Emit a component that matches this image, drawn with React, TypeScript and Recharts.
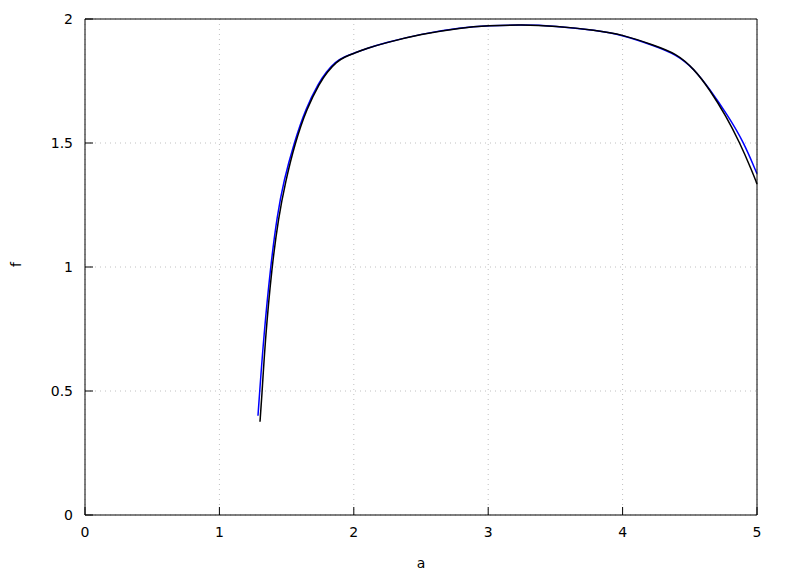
import React from "react";
import { LineChart, Line, XAxis, YAxis, CartesianGrid } from "recharts";

// blue curve
const blueA = [1.287, 1.3, 1.33, 1.38, 1.43, 1.48, 1.555, 1.642, 1.742, 1.792, 1.864, 1.93, 2.0, 2.1, 2.22, 2.5, 2.8, 3.0, 3.25, 3.5, 3.8, 4.0, 4.23, 4.4, 4.53, 4.65, 4.78, 4.9, 5.0];
const blueF = [0.4, 0.5, 0.72, 1.0, 1.21, 1.35, 1.5, 1.64, 1.745, 1.785, 1.828, 1.848, 1.862, 1.882, 1.902, 1.94, 1.966, 1.973, 1.977, 1.972, 1.955, 1.935, 1.893, 1.857, 1.8, 1.716, 1.613, 1.505, 1.376];

// black curve
const blackA = [1.302, 1.315, 1.34, 1.39, 1.44, 1.49, 1.5625, 1.65, 1.75, 1.8, 1.872, 1.935, 2.0, 2.1, 2.22, 2.5, 2.8, 3.0, 3.25, 3.5, 3.8, 4.0, 4.23, 4.4, 4.53, 4.65, 4.77, 4.87, 4.96, 5.0];
const blackF = [0.376, 0.47, 0.7, 1.0, 1.2, 1.34, 1.5, 1.64, 1.745, 1.785, 1.828, 1.848, 1.861, 1.882, 1.902, 1.939, 1.965, 1.973, 1.977, 1.971, 1.955, 1.937, 1.895, 1.861, 1.8, 1.714, 1.608, 1.503, 1.391, 1.335];

const xTicks = [0, 1, 2, 3, 4, 5];
const yTicks = [0, 0.5, 1, 1.5, 2];

const blueData = blueA.map((a, i) => ({ a, f: blueF[i] }));
const blackData = blackA.map((a, i) => ({ a, f: blackF[i] }));

const FONT = "DejaVu Sans";
const SIZE = 14;

const XTick = ({ x, y, payload }: any) => (
  <text x={x} y={y + 11} textAnchor="middle" fontFamily={FONT} fontSize={SIZE} fill="#000">
    {payload.value}
  </text>
);

const YTick = ({ x, y, payload }: any) => (
  <text x={x} y={y + 5} textAnchor="end" fontFamily={FONT} fontSize={SIZE} fill="#000">
    {payload.value}
  </text>
);

export default function App() {
  return (
    <div style={{ width: 788, height: 576 }}>
      <style>{`body{margin:0}`}</style>
      <LineChart width={788} height={576} margin={{ top: 18, right: 30, bottom: 0, left: 0 }}>
        <CartesianGrid stroke="#c0c0c0" strokeDasharray="1 4" />
        <XAxis
          xAxisId={0}
          type="number"
          dataKey="a"
          domain={[0, 5]}
          ticks={xTicks}
          height={61}
          stroke="#000"
          tickSize={-8}
          tickMargin={19}
          tick={<XTick />}
          label={{ value: "a", position: "insideBottom", offset: 8, style: { fontFamily: FONT, fontSize: SIZE, fill: "#000" } }}
        />
        <XAxis
          xAxisId="top"
          orientation="top"
          type="number"
          dataKey="a"
          domain={[0, 5]}
          ticks={xTicks}
          height={1}
          stroke="#000"
          tickSize={-8}
          tick={false}
        />
        <YAxis
          yAxisId={0}
          type="number"
          dataKey="f"
          domain={[0, 2]}
          ticks={yTicks}
          width={85}
          stroke="#000"
          tickSize={-8}
          tickMargin={20}
          tick={<YTick />}
          label={{ value: "f", angle: -90, position: "insideLeft", offset: 16, style: { fontFamily: FONT, fontSize: SIZE, fill: "#000" } }}
        />
        <YAxis
          yAxisId="right"
          orientation="right"
          type="number"
          dataKey="f"
          domain={[0, 2]}
          ticks={yTicks}
          width={1}
          stroke="#000"
          tickSize={-8}
          tick={false}
        />
        <Line
          data={blueData}
          dataKey="f"
          type="basis"
          stroke="#0000ff"
          strokeWidth={1.5}
          dot={false}
          isAnimationActive={false}
        />
        <Line
          data={blackData}
          dataKey="f"
          type="basis"
          stroke="#000"
          strokeWidth={1.5}
          dot={false}
          isAnimationActive={false}
        />
      </LineChart>
    </div>
  );
}
